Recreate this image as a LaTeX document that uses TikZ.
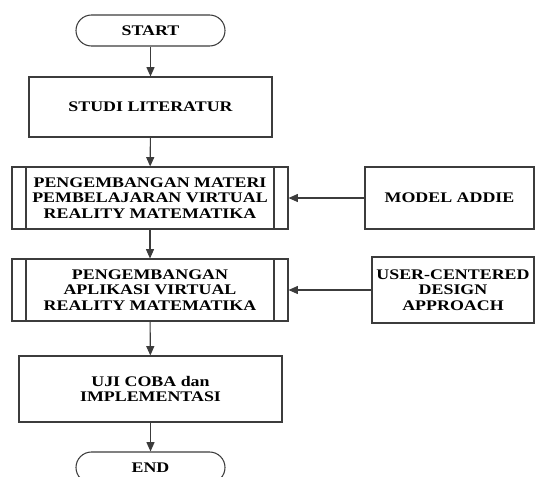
\documentclass[tikz,border=0pt]{standalone}
\usepackage{fontspec}
\setmainfont{Liberation Serif}[FakeStretch=1.22]
\usetikzlibrary{positioning, arrows.meta}

\definecolor{garis}{RGB}{60,60,60}

\tikzset{
    kotak/.style={draw=garis, line width=0.8pt, align=center, inner sep=0pt,
        font=\fontsize{11}{11.6}\selectfont\bfseries},
    terminal/.style={kotak, rounded corners=11.6pt, minimum width=111.75pt, minimum height=23.25pt},
    proses/.style={kotak, minimum width=207pt, minimum height=46.5pt,
        path picture={
            \draw[garis, line width=0.8pt] ([xshift=10.5pt]path picture bounding box.north west) -- ([xshift=10.5pt]path picture bounding box.south west);
            \draw[garis, line width=0.8pt] ([xshift=-10.5pt]path picture bounding box.north east) -- ([xshift=-10.5pt]path picture bounding box.south east);
        }},
    panah/.style={->, draw=garis, line width=0.8pt},
    >={Triangle[length=7pt, width=6pt]}
}

\begin{document}
\begin{tikzpicture}[x=0.75pt, y=-0.75pt]
    \useasboundingbox (0,0) rectangle (536,476);

    % Main flow
    \node[terminal] (start) at (150.5,30.5) {START};
    \node[kotak, minimum width=182.25pt, minimum height=45pt] (studi) at (150.5,107) {STUDI LITERATUR};
    \node[proses] (materi) at (150,198) {PENGEMBANGAN MATERI\\PEMBELAJARAN VIRTUAL\\REALITY MATEMATIKA};
    \node[proses] (aplikasi) at (150,290) {PENGEMBANGAN\\APLIKASI VIRTUAL\\REALITY MATEMATIKA};
    \node[kotak, minimum width=197.25pt, minimum height=49.5pt] (uji) at (150.5,389) {UJI COBA dan\\IMPLEMENTASI};
    \node[terminal] (end) at (150.5,467.5) {END};

    % Side inputs
    \node[kotak, minimum width=126.75pt, minimum height=46.5pt] (addie) at (449.5,198) {MODEL ADDIE};
    \node[kotak, minimum width=121.5pt, minimum height=49.5pt] (ucd) at (453,290) {USER-CENTERED\\DESIGN\\APPROACH};

    % Arrows
    \draw[panah] (start) -- (studi);
    \draw[panah] (studi) -- (materi);
    \draw[panah] (materi) -- (aplikasi);
    \draw[panah] (aplikasi) -- (uji);
    \draw[panah] (uji) -- (end);
    \draw[panah] (addie) -- (materi);
    \draw[panah] (ucd) -- (aplikasi);
\end{tikzpicture}
\end{document}
